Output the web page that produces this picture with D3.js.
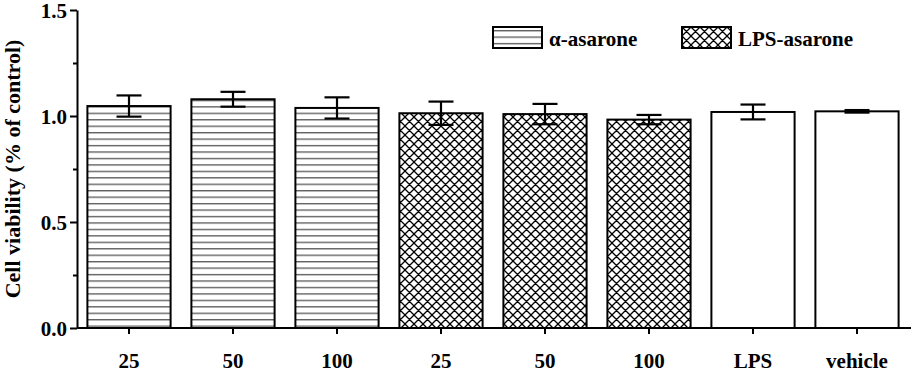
<!DOCTYPE html>
<html>
<head>
<meta charset="utf-8">
<script src="https://cdn.jsdelivr.net/npm/d3@7"></script>
<style>
  body { margin: 0; background: #fff; }
</style>
</head>
<body>
<div id="chart"></div>
<script>
// chart data
var labels = ["25", "50", "100", "25", "50", "100", "LPS", "vehicle"];
var means = [1.047, 1.079, 1.038, 1.013, 1.009, 0.983, 1.019, 1.022];
var errors = [0.050, 0.035, 0.050, 0.055, 0.048, 0.022, 0.035, 0.006];
var fills = ["stripe", "stripe", "stripe", "cross", "cross", "cross", "none", "none"];
var yTicks = [0, 0.5, 1.0, 1.5];
var yMinorTicks = [0.25, 0.75, 1.25];
var legendNames = ["\u03b1-asarone", "LPS-asarone"];
var legendFills = ["stripe", "cross"];

var width = 913, height = 372;
var serif = "'Liberation Serif', 'Times New Roman', Times, 'DejaVu Serif', serif";

var svg = d3.select("#chart").append("svg")
    .attr("width", width)
    .attr("height", height);

//patterns for bar fills
var defs = svg.append("defs");
var stripe = defs.append("pattern")
    .attr("id", "stripe")
    .attr("patternUnits", "userSpaceOnUse")
    .attr("width", 10).attr("height", 6.45)
    .attr("y", 3);
stripe.append("line")
    .attr("x1", 0).attr("x2", 10).attr("y1", 0.7).attr("y2", 0.7)
    .attr("stroke", "#555").attr("stroke-width", 1.3);

var cross = defs.append("pattern")
    .attr("id", "cross")
    .attr("patternUnits", "userSpaceOnUse")
    .attr("width", 9).attr("height", 9);
cross.append("path")
    .attr("d", "M-1,1 L1,-1 M0,9 L9,0 M8,10 L10,8 M-1,8 L1,10 M0,0 L9,9 M8,-1 L10,1")
    .attr("stroke", "#000").attr("stroke-width", 1.3);

function fillFor(f){
    return f === "none" ? "#fff" : "url(#" + f + ")";
}

//scales
var x = d3.scaleBand()
    .domain(d3.range(labels.length))
    .range([77, 909])
    .paddingInner(0.2)
    .paddingOuter(0.1);

var y = d3.scaleLinear()
    .domain([0, 1.5])
    .range([328, 10]);

//bars
svg.selectAll("rect.bar")
    .data(means)
    .join("rect")
    .attr("class", "bar")
    .attr("x", (d, i) => x(i))
    .attr("y", d => y(d))
    .attr("width", x.bandwidth())
    .attr("height", d => y(0) - y(d))
    .attr("fill", (d, i) => fillFor(fills[i]))
    .attr("stroke", "#000")
    .attr("stroke-width", 2);

//error bars
var err = svg.append("g")
    .attr("stroke", "#000")
    .attr("stroke-width", 2.2);
means.forEach(function(m, i){
    var cx = x(i) + x.bandwidth() / 2;
    var top = y(m + errors[i]), bot = y(m - errors[i]);
    err.append("line").attr("x1", cx).attr("x2", cx).attr("y1", top).attr("y2", bot);
    err.append("line").attr("x1", cx - 12.5).attr("x2", cx + 12.5).attr("y1", top).attr("y2", top);
    err.append("line").attr("x1", cx - 12.5).attr("x2", cx + 12.5).attr("y1", bot).attr("y2", bot);
});

//y axis
var yAxis = svg.append("g")
    .attr("transform", "translate(77,0)")
    .call(d3.axisLeft(y).tickValues(yTicks).tickFormat(d3.format(".1f")).tickSize(7).tickSizeOuter(0).tickPadding(3));
svg.append("g")
    .attr("transform", "translate(77,0)")
    .call(d3.axisLeft(y).tickValues(yMinorTicks).tickFormat("").tickSize(4).tickSizeOuter(0))
    .select(".domain").remove();

//x axis
var xAxis = svg.append("g")
    .attr("transform", "translate(0,328)")
    .call(d3.axisBottom(x).tickFormat(i => labels[i]).tickSize(6).tickSizeOuter(0).tickPadding(19));
xAxis.select(".domain").attr("d", "M77,0H911");

svg.selectAll(".tick line, .domain").attr("stroke", "#000").attr("stroke-width", 2);
svg.selectAll(".tick text")
    .style("font-family", serif)
    .style("font-weight", "bold")
    .style("font-size", "21px")
    .attr("fill", "#000");
yAxis.selectAll(".tick text").attr("dy", "0.34em");

//y axis title
svg.append("text")
    .attr("transform", "translate(20,169) rotate(-90)")
    .attr("text-anchor", "middle")
    .style("font-family", serif)
    .style("font-weight", "bold")
    .style("font-size", "22px")
    .text("Cell viability (% of control)");

//legend
var legendX = [493, 682];
legendNames.forEach(function(name, i){
    var g = svg.append("g").attr("transform", "translate(" + legendX[i] + ",27)");
    g.append("rect")
        .attr("width", 49).attr("height", 21)
        .attr("fill", fillFor(legendFills[i]))
        .attr("stroke", "#000").attr("stroke-width", 2);
    g.append("text")
        .attr("x", 56).attr("y", 19)
        .style("font-family", serif)
        .style("font-weight", "bold")
        .style("font-size", "21px")
        .text(name);
});
</script>
</body>
</html>
